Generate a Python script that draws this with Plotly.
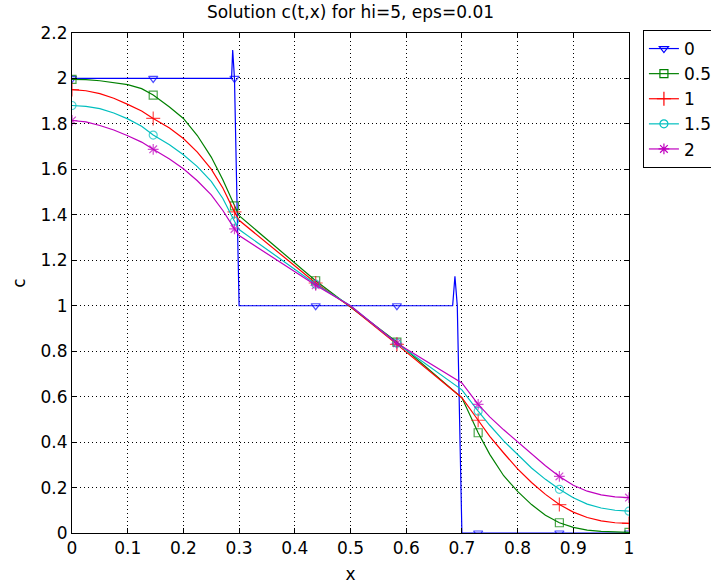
import plotly.graph_objects as go

# ---------------- data ----------------
X0 = [0, 0.1458, 0.2865, 0.2885, 0.2917, 0.3, 0.4375, 0.5833, 0.6834, 0.6875, 0.6917, 0.7, 0.7292, 0.875, 1.0]
C0 = [2.0, 2.0, 2.0, 2.125, 2.0, 1.0, 1.0, 1.0, 1.0, 1.13, 1.0, 0.0, 0.0, 0.0, 0.0]

X_GRID = [0, 0.025, 0.05, 0.075, 0.1, 0.125, 0.1458, 0.175, 0.2, 0.225, 0.25, 0.2708, 0.2917, 0.3,
          0.4375, 0.5, 0.5833, 0.7,
          0.7292, 0.75, 0.775, 0.8, 0.825, 0.85, 0.875, 0.9, 0.925, 0.95, 0.975, 1.0]
C05 = [1.996, 1.995, 1.990, 1.983, 1.973, 1.955, 1.927, 1.874, 1.824, 1.749, 1.654, 1.554, 1.439, 1.396,
       1.110, 0.995, 0.840, 0.595,
       0.441, 0.346, 0.252, 0.183, 0.125, 0.078, 0.045, 0.025, 0.013, 0.007, 0.004, 0.003]
C1 = [1.951, 1.946, 1.933, 1.913, 1.886, 1.857, 1.824, 1.782, 1.736, 1.676, 1.601, 1.518, 1.413, 1.376,
      1.100, 0.995, 0.830, 0.595,
      0.496, 0.425, 0.352, 0.282, 0.222, 0.170, 0.125, 0.092, 0.068, 0.053, 0.045, 0.042]
C15 = [1.881, 1.877, 1.867, 1.848, 1.822, 1.790, 1.751, 1.708, 1.664, 1.612, 1.547, 1.472, 1.372, 1.335,
       1.095, 1.000, 0.835, 0.630,
       0.536, 0.474, 0.405, 0.345, 0.286, 0.236, 0.192, 0.155, 0.127, 0.110, 0.100, 0.096]
C2 = [1.815, 1.809, 1.793, 1.773, 1.748, 1.720, 1.688, 1.646, 1.603, 1.550, 1.488, 1.419, 1.338, 1.309,
      1.090, 1.000, 0.835, 0.660,
      0.566, 0.511, 0.454, 0.400, 0.346, 0.296, 0.249, 0.210, 0.184, 0.168, 0.159, 0.156]

MARK_X = [0, 0.1458, 0.2917, 0.4375, 0.5833, 0.7292, 0.875, 1.0]

LABELS = ["0", "0.5", "1", "1.5", "2"]
COLORS = ["#0000ff", "#008000", "#ff0000", "#00bfbf", "#bf00bf"]
SYMBOLS = ["triangle-down-open", "square-open", "cross-thin-open", "circle-open", "asterisk-open"]
MSIZES = [8, 8, 10, 8, 9]

X_TICKS = [0, 0.1, 0.2, 0.3, 0.4, 0.5, 0.6, 0.7, 0.8, 0.9, 1]
Y_TICKS = [0, 0.2, 0.4, 0.6, 0.8, 1, 1.2, 1.4, 1.6, 1.8, 2, 2.2]

SERIES = [(X0, C0), (X_GRID, C05), (X_GRID, C1), (X_GRID, C15), (X_GRID, C2)]

FONT = "DejaVu Sans"

fig = go.Figure()
for (xs, ys), lab, col, sym, ms in zip(SERIES, LABELS, COLORS, SYMBOLS, MSIZES):
    sizes = [ms if any(abs(x - m) < 1e-6 for m in MARK_X) else 0 for x in xs]
    fig.add_trace(go.Scatter(
        x=xs, y=ys, mode="lines+markers", showlegend=False,
        line=dict(color=col, width=1.2),
        marker=dict(symbol=sym, size=sizes, color=col, line=dict(color=col, width=1.2)),
        hoverinfo="skip"))
for lab, col, sym, ms in zip(LABELS, COLORS, SYMBOLS, MSIZES):
    fig.add_trace(go.Scatter(
        x=[None], y=[None], mode="lines+markers", name=lab,
        line=dict(color=col, width=1.2),
        marker=dict(symbol=sym, size=ms, color=col, line=dict(color=col, width=1.2))))

axis_common = dict(
    showline=True, linecolor="black", linewidth=1, mirror="ticks",
    ticks="inside", ticklen=5, tickcolor="black",
    showgrid=True, gridcolor="black", gridwidth=1, griddash="1px,3px",
    zeroline=False, tickfont=dict(family=FONT, size=17, color="black"),
)

fig.update_layout(
    width=711, height=587,
    margin=dict(l=72, r=82, t=33, b=54, autoexpand=False),
    paper_bgcolor="white", plot_bgcolor="white",
    title=dict(text="Solution c(t,x) for hi=5, eps=0.01", xref="paper", x=0.5, xanchor="center",
               y=0.99, yanchor="top", font=dict(family=FONT, size=17, color="black")),
    xaxis=dict(range=[0, 1], tickvals=X_TICKS, ticktext=[f"{v:g}" for v in X_TICKS],
               title=dict(text="x", font=dict(family=FONT, size=17, color="black"), standoff=10),
               **axis_common),
    yaxis=dict(range=[0, 2.2], tickvals=Y_TICKS, ticktext=[f"{v:g}" for v in Y_TICKS],
               title=dict(text="c", font=dict(family=FONT, size=17, color="black"), standoff=10),
               **axis_common),
    legend=dict(x=1.025, xanchor="left", y=1.006, yanchor="top",
                bordercolor="black", borderwidth=1, bgcolor="white",
                font=dict(family=FONT, size=17, color="black"),
                tracegroupgap=0),
    font=dict(family=FONT),
)

fig.write_html("out.html")
